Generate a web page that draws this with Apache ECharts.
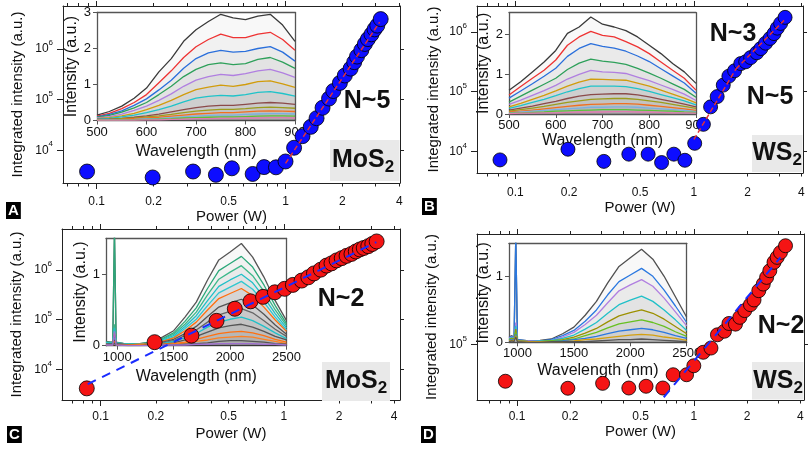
<!DOCTYPE html>
<html>
<head>
<meta charset="utf-8">
<script src="https://cdn.jsdelivr.net/npm/echarts@6/dist/echarts.min.js"></script>
<style>
  html, body { margin: 0; padding: 0; background: #fff; }
  #chart { width: 809px; height: 449px; }
</style>
</head>
<body>
<div id="chart"></div>
<script>
// ---------- shared axis ticks ----------
const powerTickLabels = [0.1, 0.2, 0.5, 1, 2, 4];
const powerMajorTicks = [0.1, 1];
const powerMinorTicks = [0.07, 0.08, 0.09, 0.2, 0.3, 0.4, 0.5, 0.6, 0.7, 0.8, 0.9, 2, 3, 4];
const intensityTicks = [1e4, 1e5, 1e6];
const visTicks = [500, 600, 700, 800, 900];
const irTicks = [1000, 1500, 2000, 2500];

// ---------- A: MoS2, visible emission ----------
const powerA = [0.089, 0.198, 0.324, 0.428, 0.52, 0.67, 0.77, 0.89, 1.0, 1.11, 1.23, 1.36, 1.46, 1.57,
  1.70, 1.79, 1.94, 2.06, 2.21, 2.31, 2.39, 2.52, 2.63, 2.73, 2.85, 2.96, 3.06, 3.19];
const intensityA = [3.8e3, 2.9e3, 3.8e3, 3.27e3, 4.4e3, 3.4e3, 4.65e3, 4.6e3, 6.0e3, 1.12e4, 1.9e4, 2.9e4,
  4.3e4, 6.9e4, 1.05e5, 1.48e5, 2.14e5, 3.0e5, 4.1e5, 5.5e5, 7.1e5, 9.5e5, 1.26e6, 1.57e6, 1.95e6,
  2.45e6, 2.9e6, 3.9e6];
const fitA = [[1.0, 5.5e3], [3.15, 3.4e6]];

// ---------- B: WS2, visible emission ----------
const powerB = [0.082, 0.197, 0.313, 0.432, 0.554, 0.659, 0.772, 0.89, 1.01, 1.13, 1.24, 1.35, 1.46, 1.57,
  1.69, 1.83, 1.95, 2.08, 2.25, 2.37, 2.52, 2.67, 2.81, 2.93, 3.06, 3.24];
const intensityB = [7.3e3, 1.1e4, 6.9e3, 9.1e3, 9.1e3, 6.6e3, 9.1e3, 7.2e3, 1.38e4, 2.86e4, 5.6e4, 8.3e4,
  1.29e5, 1.82e5, 2.24e5, 2.95e5, 3.16e5, 3.72e5, 4.47e5, 5.25e5, 6.46e5, 7.76e5, 9.33e5, 1.15e6,
  1.38e6, 1.74e6];
const fitB5 = [[1.0, 1.6e4], [1.72, 2.4e5]];
const fitB3 = [[1.72, 2.4e5], [3.2, 1.55e6]];

// ---------- C: MoS2, infrared emission ----------
const powerC = [0.084, 0.197, 0.313, 0.429, 0.54, 0.658, 0.77, 0.893, 1.01, 1.12, 1.25, 1.36, 1.46, 1.59,
  1.71, 1.82, 1.94, 2.07, 2.20, 2.34, 2.47, 2.6, 2.73, 2.89, 3.04, 3.21];
const intensityC = [4.2e3, 3.55e4, 4.8e4, 9.5e4, 1.66e5, 2.34e5, 2.88e5, 3.55e5, 4.17e5, 5.0e5, 6.1e5,
  7.1e5, 8.5e5, 1.01e6, 1.22e6, 1.35e6, 1.55e6, 1.72e6, 1.91e6, 2.09e6, 2.34e6, 2.57e6, 2.75e6,
  2.99e6, 3.31e6, 3.72e6];
const fitC = [[0.085, 5.1e3], [3.2, 3.6e6]];

// ---------- D: WS2, infrared emission ----------
const powerD = [0.086, 0.194, 0.305, 0.429, 0.537, 0.668, 0.764, 0.91, 1.0, 1.13, 1.25, 1.36, 1.49, 1.58,
  1.72, 1.82, 1.94, 2.09, 2.19, 2.33, 2.47, 2.58, 2.69, 2.84, 2.96, 3.09, 3.3];
const intensityD = [4.81e4, 4.18e4, 4.61e4, 4.2e4, 4.35e4, 4.2e4, 5.48e4, 5.48e4, 6.56e4, 8.59e4, 9.35e4,
  1.22e5, 1.31e5, 1.53e5, 1.51e5, 1.73e5, 1.98e5, 2.23e5, 2.45e5, 2.95e5, 3.37e5, 3.85e5, 4.4e5,
  5.21e5, 5.75e5, 6.35e5, 7.26e5];
const fitD = [[0.676, 3.49e4], [3.09, 5.75e5]];

// ---------- inset spectra ----------
const wlA = [500, 525, 550, 575, 600, 625, 650, 675, 700, 725, 750, 775, 800, 825, 850, 875, 900];
const spectraA = [
  [0.15, 0.25, 0.40, 0.62, 0.90, 1.35, 1.72, 2.20, 2.52, 2.75, 2.95, 2.85, 2.80, 2.90, 2.95, 2.65, 2.20],
  [0.12, 0.20, 0.33, 0.50, 0.72, 1.05, 1.38, 1.75, 2.05, 2.25, 2.40, 2.30, 2.30, 2.40, 2.45, 2.25, 1.95],
  [0.10, 0.17, 0.27, 0.42, 0.60, 0.85, 1.12, 1.45, 1.72, 1.88, 1.95, 1.90, 1.92, 2.00, 2.05, 1.90, 1.65],
  [0.09, 0.14, 0.23, 0.35, 0.50, 0.72, 0.95, 1.22, 1.42, 1.55, 1.60, 1.55, 1.58, 1.70, 1.75, 1.62, 1.45],
  [0.07, 0.11, 0.18, 0.28, 0.40, 0.56, 0.74, 0.95, 1.12, 1.22, 1.28, 1.25, 1.30, 1.38, 1.42, 1.32, 1.20],
  [0.05, 0.08, 0.13, 0.20, 0.30, 0.42, 0.56, 0.72, 0.86, 0.93, 0.98, 0.95, 1.00, 1.08, 1.10, 1.02, 0.92],
  [0.04, 0.06, 0.10, 0.15, 0.22, 0.30, 0.40, 0.52, 0.62, 0.67, 0.70, 0.68, 0.72, 0.78, 0.80, 0.75, 0.68],
  [0.03, 0.04, 0.06, 0.09, 0.13, 0.18, 0.24, 0.30, 0.36, 0.40, 0.42, 0.42, 0.45, 0.48, 0.50, 0.48, 0.45],
  [0.02, 0.03, 0.05, 0.07, 0.10, 0.13, 0.17, 0.22, 0.26, 0.29, 0.31, 0.31, 0.33, 0.36, 0.37, 0.36, 0.34],
  [0.02, 0.02, 0.03, 0.05, 0.07, 0.09, 0.12, 0.15, 0.18, 0.20, 0.22, 0.22, 0.24, 0.26, 0.27, 0.26, 0.25],
  [0.01, 0.02, 0.02, 0.03, 0.05, 0.06, 0.08, 0.10, 0.12, 0.14, 0.15, 0.15, 0.17, 0.18, 0.19, 0.19, 0.18],
  [0.01, 0.01, 0.02, 0.02, 0.03, 0.04, 0.05, 0.07, 0.08, 0.09, 0.10, 0.10, 0.11, 0.12, 0.13, 0.13, 0.12],
  [0.01, 0.01, 0.01, 0.01, 0.02, 0.02, 0.03, 0.04, 0.05, 0.05, 0.06, 0.06, 0.07, 0.07, 0.08, 0.08, 0.07]
];
const colorsA = ['#3a3a3a', '#ee3333', '#2a6fdb', '#2ea05a', '#b07fe0', '#d19c0c', '#1fc3c9',
  '#8b4a4a', '#9c9c1c', '#f07020', '#7cb0e0', '#5cbf3a', '#e07ab0'];

const wlB = [500, 525, 550, 575, 600, 625, 650, 675, 700, 725, 750, 775, 800, 825, 850, 875, 900];
const spectraB = [
  [0.60, 0.81, 1.06, 1.31, 1.60, 2.03, 2.19, 2.44, 2.26, 2.19, 2.10, 1.94, 1.73, 1.52, 1.27, 1.06, 0.77],
  [0.48, 0.69, 0.90, 1.10, 1.36, 1.73, 1.94, 2.08, 1.98, 1.94, 1.82, 1.69, 1.52, 1.31, 1.10, 0.90, 0.60],
  [0.40, 0.58, 0.76, 0.95, 1.15, 1.45, 1.65, 1.77, 1.70, 1.66, 1.58, 1.46, 1.32, 1.14, 0.96, 0.78, 0.52],
  [0.30, 0.45, 0.60, 0.75, 0.90, 1.12, 1.28, 1.38, 1.33, 1.30, 1.25, 1.15, 1.03, 0.90, 0.76, 0.62, 0.42],
  [0.24, 0.35, 0.47, 0.59, 0.72, 0.88, 1.00, 1.10, 1.06, 1.05, 1.02, 0.93, 0.84, 0.73, 0.62, 0.50, 0.34],
  [0.18, 0.27, 0.37, 0.47, 0.58, 0.70, 0.80, 0.88, 0.87, 0.86, 0.85, 0.78, 0.70, 0.60, 0.50, 0.40, 0.28],
  [0.14, 0.21, 0.29, 0.37, 0.46, 0.56, 0.64, 0.70, 0.70, 0.70, 0.69, 0.64, 0.57, 0.49, 0.41, 0.33, 0.23],
  [0.10, 0.15, 0.20, 0.26, 0.32, 0.39, 0.45, 0.49, 0.50, 0.51, 0.51, 0.48, 0.43, 0.37, 0.31, 0.25, 0.18],
  [0.07, 0.11, 0.15, 0.19, 0.24, 0.29, 0.33, 0.37, 0.38, 0.39, 0.39, 0.37, 0.33, 0.29, 0.24, 0.19, 0.14],
  [0.05, 0.07, 0.10, 0.13, 0.16, 0.19, 0.22, 0.24, 0.25, 0.26, 0.26, 0.25, 0.22, 0.19, 0.16, 0.13, 0.09],
  [0.03, 0.05, 0.07, 0.09, 0.11, 0.13, 0.15, 0.17, 0.17, 0.18, 0.18, 0.17, 0.15, 0.13, 0.11, 0.09, 0.06],
  [0.02, 0.03, 0.04, 0.05, 0.07, 0.08, 0.09, 0.10, 0.11, 0.11, 0.11, 0.10, 0.09, 0.08, 0.07, 0.05, 0.04],
  [0.01, 0.02, 0.02, 0.03, 0.03, 0.04, 0.05, 0.05, 0.05, 0.06, 0.06, 0.05, 0.05, 0.04, 0.03, 0.03, 0.02]
];
const colorsB = colorsA;

const wlC = [900, 940, 960, 975, 990, 1100, 1200, 1300, 1400, 1500, 1600, 1700, 1800, 1900, 2000,
  2100, 2200, 2300, 2400, 2500];
const spectraC = [
  [0.06, 0.05, 0.05, 1.60, 0.05, 0.02, 0.03, 0.05, 0.12, 0.21, 0.40, 0.61, 0.92, 1.20, 1.31, 1.43, 1.24, 0.96, 0.63, 0.35],
  [0.05, 0.05, 0.05, 1.60, 0.04, 0.02, 0.03, 0.05, 0.10, 0.18, 0.34, 0.53, 0.80, 1.05, 1.15, 1.25, 1.10, 0.85, 0.56, 0.31],
  [0.05, 0.04, 0.04, 0.30, 0.04, 0.02, 0.02, 0.04, 0.09, 0.16, 0.30, 0.47, 0.71, 0.93, 1.03, 1.12, 0.98, 0.76, 0.50, 0.28],
  [0.04, 0.04, 0.04, 0.25, 0.04, 0.02, 0.02, 0.04, 0.08, 0.14, 0.27, 0.42, 0.63, 0.83, 0.92, 1.00, 0.88, 0.68, 0.45, 0.25],
  [0.04, 0.03, 0.03, 0.20, 0.03, 0.01, 0.02, 0.03, 0.07, 0.12, 0.24, 0.37, 0.56, 0.74, 0.82, 0.90, 0.79, 0.61, 0.40, 0.22],
  [0.03, 0.03, 0.03, 0.18, 0.03, 0.01, 0.02, 0.03, 0.06, 0.11, 0.21, 0.33, 0.50, 0.66, 0.73, 0.80, 0.70, 0.54, 0.36, 0.20],
  [0.03, 0.03, 0.03, 0.15, 0.03, 0.01, 0.01, 0.02, 0.05, 0.09, 0.17, 0.27, 0.41, 0.54, 0.60, 0.65, 0.57, 0.44, 0.29, 0.16],
  [0.03, 0.02, 0.02, 0.12, 0.02, 0.01, 0.01, 0.02, 0.04, 0.07, 0.14, 0.22, 0.33, 0.43, 0.48, 0.52, 0.46, 0.35, 0.23, 0.13],
  [0.02, 0.02, 0.02, 0.10, 0.02, 0.01, 0.01, 0.02, 0.03, 0.06, 0.11, 0.17, 0.26, 0.33, 0.37, 0.40, 0.35, 0.27, 0.18, 0.10],
  [0.02, 0.02, 0.02, 0.08, 0.02, 0.01, 0.01, 0.01, 0.02, 0.04, 0.08, 0.13, 0.19, 0.25, 0.28, 0.30, 0.26, 0.20, 0.13, 0.08],
  [0.02, 0.01, 0.01, 0.06, 0.01, 0.01, 0.01, 0.01, 0.02, 0.03, 0.05, 0.09, 0.13, 0.17, 0.19, 0.20, 0.18, 0.14, 0.09, 0.05],
  [0.01, 0.01, 0.01, 0.05, 0.01, 0.00, 0.01, 0.01, 0.01, 0.02, 0.04, 0.06, 0.08, 0.11, 0.12, 0.13, 0.12, 0.09, 0.06, 0.03],
  [0.01, 0.01, 0.01, 0.04, 0.01, 0.00, 0.00, 0.01, 0.01, 0.01, 0.02, 0.03, 0.04, 0.06, 0.07, 0.07, 0.06, 0.05, 0.03, 0.02],
  [0.01, 0.01, 0.01, 0.20, 0.01, 0.00, 0.00, 0.00, 0.01, 0.01, 0.01, 0.02, 0.02, 0.03, 0.03, 0.03, 0.03, 0.02, 0.02, 0.01]
];
const colorsC = ['#555555', '#2ca87a', '#3cb88a', '#20c0c8', '#30c8d0', '#ff7010', '#555555',
  '#666666', '#20c0c8', '#555555', '#ff7010', '#ff8020', '#555555', '#a070d0'];

const wlD = [925, 950, 970, 985, 1000, 1100, 1200, 1300, 1400, 1500, 1600, 1700, 1800, 1900, 2000,
  2100, 2200, 2300, 2400, 2500];
const spectraD = [
  [0.08, 0.10, 0.07, 1.60, 0.04, 0.02, 0.03, 0.05, 0.13, 0.23, 0.41, 0.62, 0.90, 1.15, 1.28, 1.41, 1.26, 1.00, 0.69, 0.38],
  [0.07, 0.09, 0.06, 1.60, 0.04, 0.02, 0.02, 0.04, 0.10, 0.18, 0.32, 0.49, 0.72, 0.92, 1.02, 1.12, 1.00, 0.79, 0.55, 0.30],
  [0.06, 0.08, 0.05, 0.30, 0.03, 0.02, 0.02, 0.03, 0.08, 0.15, 0.27, 0.41, 0.60, 0.78, 0.87, 0.95, 0.85, 0.67, 0.46, 0.25],
  [0.05, 0.07, 0.05, 0.25, 0.03, 0.01, 0.02, 0.03, 0.06, 0.11, 0.20, 0.30, 0.44, 0.57, 0.64, 0.70, 0.62, 0.49, 0.34, 0.18],
  [0.04, 0.06, 0.04, 0.20, 0.03, 0.01, 0.01, 0.02, 0.04, 0.08, 0.14, 0.21, 0.31, 0.40, 0.45, 0.49, 0.44, 0.35, 0.24, 0.13],
  [0.04, 0.05, 0.03, 0.15, 0.02, 0.01, 0.01, 0.02, 0.03, 0.05, 0.10, 0.15, 0.22, 0.28, 0.31, 0.34, 0.30, 0.24, 0.16, 0.09],
  [0.03, 0.04, 0.03, 0.12, 0.02, 0.01, 0.01, 0.01, 0.02, 0.04, 0.06, 0.09, 0.13, 0.17, 0.19, 0.21, 0.19, 0.15, 0.10, 0.06],
  [0.02, 0.03, 0.02, 0.10, 0.02, 0.01, 0.01, 0.01, 0.01, 0.02, 0.04, 0.05, 0.07, 0.09, 0.11, 0.12, 0.11, 0.08, 0.06, 0.03],
  [0.01, 0.02, 0.01, 0.08, 0.01, 0.00, 0.00, 0.01, 0.01, 0.01, 0.01, 0.02, 0.03, 0.04, 0.04, 0.05, 0.04, 0.03, 0.02, 0.01]
];
const colorsD = ['#505050', '#2a78e0', '#b07fe0', '#20c0c8', '#9c9000', '#66c020', '#2a78e0',
  '#d4a010', '#555555'];

// ---------- helpers ----------
const FONT = '"Liberation Sans", Arial, Helvetica, sans-serif';
const lg = v => Math.log10(v);
const fmtPower = v => String(+Math.pow(10, v).toPrecision(2));
const fmtExp = v => '10{sup|' + Math.round(v) + '}';
const fmtPlain = v => String(v);
const dark = '#222';
const textColor = '#111';

const option = {
  animation: false,
  backgroundColor: '#fff',
  textStyle: { fontFamily: FONT },
  grid: [], xAxis: [], yAxis: [], series: [], title: [], graphic: []
};

function pushGrid(box) {
  option.grid.push({ left: box[0], top: box[1], width: box[2], height: box[3],
    containLabel: false, outerBoundsMode: 'none' });
  return option.grid.length - 1;
}

// main log-log panel: integrated intensity vs pump power
function addMainPanel(p) {
  const g = pushGrid(p.box);
  const line = { onZero: false, lineStyle: { color: dark, width: 1 } };
  const tick = { color: dark, width: 1 };
  const xb = { gridIndex: g, type: 'value', min: p.xRange[0], max: p.xRange[1], splitLine: { show: false }, axisLine: line };
  const yb = { gridIndex: g, type: 'value', min: p.yRange[0], max: p.yRange[1], splitLine: { show: false }, axisLine: line };
  const major = powerMajorTicks.map(lg), minor = powerMinorTicks.map(lg), yt = intensityTicks.map(lg);
  const xi = option.xAxis.length;
  option.xAxis.push(
    Object.assign({}, xb, { position: 'bottom',
      axisTick: { customValues: major, length: 6, lineStyle: tick },
      axisLabel: { customValues: powerTickLabels.map(lg), formatter: fmtPower, fontSize: 12, color: textColor, margin: p.xLabelMargin },
      name: 'Power (W)', nameLocation: 'middle', nameGap: p.xNameGap,
      nameTextStyle: { fontSize: 15, color: textColor } }),
    Object.assign({}, xb, { position: 'bottom', axisLine: { show: false },
      axisTick: { customValues: minor, length: 3.5, lineStyle: tick }, axisLabel: { show: false } }),
    Object.assign({}, xb, { position: 'top',
      axisTick: { customValues: major, length: 5, lineStyle: tick }, axisLabel: { show: false } }),
    Object.assign({}, xb, { position: 'top', axisLine: { show: false },
      axisTick: { customValues: minor, length: 3, lineStyle: tick }, axisLabel: { show: false } })
  );
  const yi = option.yAxis.length;
  option.yAxis.push(
    Object.assign({}, yb, { position: 'left',
      axisTick: { customValues: yt, length: 6, lineStyle: tick },
      axisLabel: { customValues: yt, formatter: fmtExp, fontSize: 12, color: textColor, margin: 10, lineHeight: 20,
        rich: { sup: { fontSize: 8, lineHeight: 8, verticalAlign: 'top', color: textColor } } },
      name: 'Integrated intensity (a.u.)', nameLocation: 'middle', nameGap: p.yNameGap,
      nameTextStyle: { fontSize: 15, color: textColor } }),
    Object.assign({}, yb, { position: 'right',
      axisTick: { customValues: yt, length: 4, lineStyle: tick }, axisLabel: { show: false } })
  );
  option.series.push({
    type: 'scatter', xAxisIndex: xi, yAxisIndex: yi, silent: true, z: 5,
    data: p.power.map((v, i) => [lg(v), lg(p.intensity[i])]),
    symbolSize: p.size,
    itemStyle: { color: p.color, borderColor: '#000', borderWidth: 0.8, opacity: 1 }
  });
  p.fits.forEach(f => option.series.push({
    type: 'line', xAxisIndex: xi, yAxisIndex: yi, silent: true, z: 6, symbol: 'none',
    data: f.map(d => [lg(d[0]), lg(d[1])]),
    lineStyle: { color: p.fitColor, width: p.fitWidth, type: p.fitDash }
  }));
}

// inset: emission spectra at increasing power
function addInset(p) {
  const g = pushGrid(p.box);
  const edge = '#555';
  const line = { onZero: false, lineStyle: { color: edge, width: 1.3 } };
  const xb = { gridIndex: g, type: 'value', min: p.xRange[0], max: p.xRange[1], splitLine: { show: false }, axisLine: line };
  const yb = { gridIndex: g, type: 'value', min: p.yRange[0], max: p.yRange[1], splitLine: { show: false }, axisLine: line };
  const xi = option.xAxis.length;
  option.xAxis.push(
    Object.assign({}, xb, { position: 'bottom',
      axisTick: { customValues: p.xTicks, length: 4, lineStyle: { color: edge } },
      axisLabel: { customValues: p.xTicks, formatter: fmtPlain, fontSize: 13, color: textColor, margin: 5 },
      name: 'Wavelength (nm)', nameLocation: 'middle', nameGap: p.xNameGap,
      nameTextStyle: { fontSize: 16, color: textColor } }),
    Object.assign({}, xb, { position: 'top', axisTick: { show: false }, axisLabel: { show: false } })
  );
  const yi = option.yAxis.length;
  option.yAxis.push(
    Object.assign({}, yb, { position: 'left',
      axisTick: { customValues: p.yTicks, length: 4, lineStyle: { color: edge } },
      axisLabel: { customValues: p.yTicks, formatter: fmtPlain, fontSize: 13, color: textColor, margin: 6 },
      name: 'Intensity (a.u.)', nameLocation: 'middle', nameGap: p.yNameGap,
      nameTextStyle: { fontSize: 16, color: textColor } }),
    Object.assign({}, yb, { position: 'right', axisTick: { show: false }, axisLabel: { show: false } })
  );
  p.spectra.forEach((curve, k) => option.series.push({
    type: 'line', xAxisIndex: xi, yAxisIndex: yi, silent: true, z: 2, symbol: 'none',
    data: p.wl.map((w, i) => [w, curve[i]]),
    lineStyle: { color: p.colors[k], width: 1.3 },
    areaStyle: { color: 'rgba(0,0,0,0.04)', origin: 'start' }
  }));
}

function addLetter(ch, left, top) {
  option.title.push({ text: ch, left: left, top: top, padding: [1, 2, 0, 2], backgroundColor: '#000',
    textStyle: { color: '#fff', fontSize: 15, fontWeight: 'bold', lineHeight: 16 } });
}
function addSlope(text, x, y) {
  option.title.push({ text: text, left: x, top: y, textAlign: 'center', textVerticalAlign: 'middle', padding: 0,
    textStyle: { color: textColor, fontSize: 25, fontWeight: 'bold' } });
}
function addMaterial(base, box, cx, cy) {
  option.graphic.push({ type: 'rect', silent: true, z: 1,
    shape: { x: box[0], y: box[1], width: box[2], height: box[3] }, style: { fill: '#e9e9e9' } });
  option.title.push({ text: base + '{s|2}', left: cx, top: cy, textAlign: 'center', textVerticalAlign: 'middle', padding: 0,
    textStyle: { color: textColor, fontSize: 25, fontWeight: 'bold', lineHeight: 32,
      rich: { s: { color: textColor, fontSize: 17, fontWeight: 'bold', lineHeight: 18, verticalAlign: 'bottom' } } } });
}

// ---------- build ----------
addInset({ box: [97, 12.5, 198, 108], xRange: [500, 900], yRange: [0, 3], xTicks: visTicks, yTicks: [0, 1, 2, 3],
  xNameGap: 23, yNameGap: 15, wl: wlA, spectra: spectraA, colors: colorsA });
addInset({ box: [509, 12.7, 187, 101.3], xRange: [500, 900], yRange: [0, 2.55], xTicks: visTicks, yTicks: [0, 1, 2],
  xNameGap: 17, yNameGap: 15, wl: wlB, spectra: spectraB, colors: colorsB });
addInset({ box: [106, 238.5, 180.5, 107.2], xRange: [900, 2500], yRange: [0, 1.5], xTicks: irTicks, yTicks: [0, 1],
  xNameGap: 23, yNameGap: 15.5, wl: wlC, spectra: spectraC, colors: colorsC });
addInset({ box: [509, 243.3, 177.7, 99], xRange: [925, 2500], yRange: [0, 1.5], xTicks: irTicks, yTicks: [0, 1],
  xNameGap: 20, yNameGap: 16, wl: wlD, spectra: spectraD, colors: colorsD });

addMainPanel({ box: [63, 6, 337, 177], xRange: [-1.178, 0.606], yRange: [3.353, 6.85],
  xLabelMargin: 13, xNameGap: 26, yNameGap: 37.5, power: powerA, intensity: intensityA, size: 15,
  color: '#0d0dff', fits: [fitA], fitColor: '#e0303a', fitWidth: 1.5, fitDash: [5, 3] });
addMainPanel({ box: [477, 6, 326, 167], xRange: [-1.215, 0.611], yRange: [3.645, 6.43],
  xLabelMargin: 14, xNameGap: 27, yNameGap: 35.5, power: powerB, intensity: intensityB, size: 14,
  color: '#0d0dff', fits: [fitB5, fitB3], fitColor: '#e0303a', fitWidth: 1.5, fitDash: [5, 3] });
addMainPanel({ box: [62, 229, 338, 171], xRange: [-1.211, 0.634], yRange: [3.39, 6.82],
  xLabelMargin: 11, xNameGap: 26, yNameGap: 37.5, power: powerC, intensity: intensityC, size: 15,
  color: '#f51414', fits: [fitC], fitColor: '#1a2cff', fitWidth: 2, fitDash: [9, 7] });
addMainPanel({ box: [477, 234, 327, 166], xRange: [-1.226, 0.623], yRange: [4.519, 5.963],
  xLabelMargin: 11, xNameGap: 24, yNameGap: 37.5, power: powerD, intensity: intensityD, size: 14,
  color: '#f51414', fits: [fitD], fitColor: '#1a2cff', fitWidth: 2, fitDash: [9, 7] });

addLetter('A', 6, 202);
addLetter('B', 422, 198);
addLetter('C', 7, 426);
addLetter('D', 421, 426);

addSlope('N~5', 367, 101);
addSlope('N~3', 733, 34);
addSlope('N~5', 770, 97);
addSlope('N~2', 341, 299);
addSlope('N~2', 781, 326);

addMaterial('MoS', [330, 140, 69.5, 41], 363, 160);
addMaterial('WS', [752, 135, 50.5, 37], 777, 153);
addMaterial('MoS', [322, 362, 68, 39], 356, 381);
addMaterial('WS', [752, 362, 51.5, 37.5], 778, 381);

const chart = echarts.init(document.getElementById('chart'), null, { renderer: 'canvas' });
chart.setOption(option);
</script>
</body>
</html>
